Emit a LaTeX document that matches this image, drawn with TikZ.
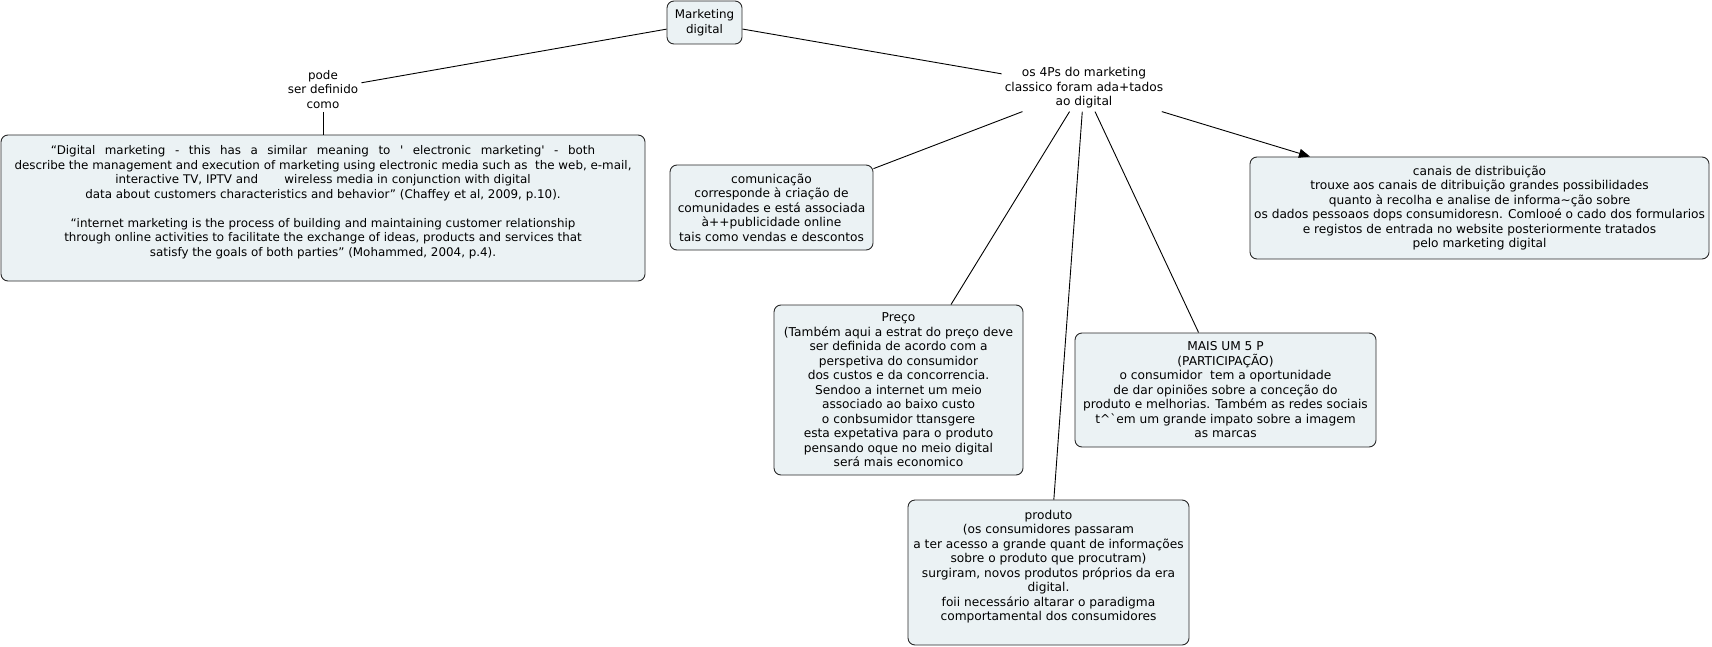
\documentclass[tikz,border=0pt]{standalone}
\usepackage{fontspec}
\setmainfont{DejaVu Sans}[Ligatures=TeXOff]
\usetikzlibrary{arrows.meta}
\definecolor{boxfill}{RGB}{235,242,244}
\definecolor{boxline}{RGB}{40,40,40}
\newcommand\wgap{\hspace{0.8em}}
\tikzset{
  box/.style={draw=boxline, fill=boxfill, rounded corners=7pt, line width=0.9pt, align=center, inner sep=0pt, font=\fontsize{12.2}{14.5}\selectfont},
  tbox/.style={box, font=\fontsize{11.9}{14.5}\selectfont},
  lbl/.style={align=center, inner sep=3pt, font=\fontsize{12.2}{14.5}\selectfont},
  tlbl/.style={lbl, font=\fontsize{11.9}{14.5}\selectfont},
  conn/.style={draw=black, line width=0.9pt},
}
\begin{document}
\begin{tikzpicture}[x=1pt,y=-1pt]
\useasboundingbox (0,0) rectangle (1712,647);
\node[tbox, minimum width=75, minimum height=43] (main) at (704.5,22.5) {Marketing\\digital};
\node[tlbl] (pode) at (323,89.5) {pode\\ser definido\\como};
\node[lbl] (fourp) at (1084,88) {os 4Ps do marketing\\classico foram ada+tados\\ao digital};
\node[tbox, minimum width=644, minimum height=146] (def) at (323,208) {%
“Digital\wgap marketing\wgap -\wgap this\wgap has\wgap a\wgap similar\wgap meaning\wgap to\wgap '\wgap electronic\wgap marketing'\wgap -\wgap both\\
describe the management and execution of marketing using electronic media such as\ \ the web, e-mail,\\
interactive TV, IPTV and\hspace{2.2em}wireless media in conjunction with digital\\
data about customers characteristics and behavior” (Chaffey et al, 2009, p.10).\\[14.5pt]
“internet marketing is the process of building and maintaining customer relationship\\
through online activities to facilitate the exchange of ideas, products and services that\\
satisfy the goals of both parties” (Mohammed, 2004, p.4).\\ \mbox{}};
\node[box, minimum width=203, minimum height=85] (com) at (771.5,207.5) {comunicação\\corresponde à criação de\\comunidades e está associada\\à++publicidade online\\tais como vendas e descontos};
\node[box, minimum width=459, minimum height=102] (canais) at (1479.5,208) {canais de distribuição\\trouxe aos canais de ditribuição grandes possibilidades\\quanto à recolha e analise de informa\char"7E\relax ção sobre\\os dados pessoaos dops consumidoresn. Comlooé o cado dos formularios\\e registos de entrada no website posteriormente tratados\\pelo marketing digital};
\node[box, minimum width=249, minimum height=170] (preco) at (898.5,390) {Preço\\(Também aqui a estrat do preço deve\\ser definida de acordo com a\\perspetiva do consumidor\\dos custos e da concorrencia.\\Sendoo a internet um meio\\associado ao baixo custo\\o conbsumidor ttansgere\\esta expetativa para o produto\\pensando oque no meio digital\\será mais economico};
\node[box, minimum width=301, minimum height=114] (mais) at (1225.5,390) {MAIS UM 5 P\\(PARTICIPAÇÃO)\\o consumidor\ \ tem a oportunidade\\de dar opiniões sobre a conceção do\\produto e melhorias. Também as redes sociais\\t\char"5E\relax `em um grande impato sobre a imagem\\as marcas};
\node[box, minimum width=281, minimum height=145] (produto) at (1048.5,572.5) {produto\\(os consumidores passaram\\a ter acesso a grande quant de informações\\sobre o produto que procutram)\\surgiram, novos produtos próprios da era\\digital.\\foii necessário altarar o paradigma\\comportamental dos consumidores\\ \mbox{}};
\draw[conn] (main) -- (pode);
\draw[conn] (pode) -- (def);
\draw[conn] (main) -- (fourp);
\draw[conn] (fourp) -- (com);
\draw[conn, -{Triangle[length=11pt,width=9pt]}] (fourp) -- (canais);
\draw[conn] (fourp) -- (preco);
\draw[conn] (fourp) -- (mais);
\draw[conn] (fourp) -- (produto);
\end{tikzpicture}
\end{document}
